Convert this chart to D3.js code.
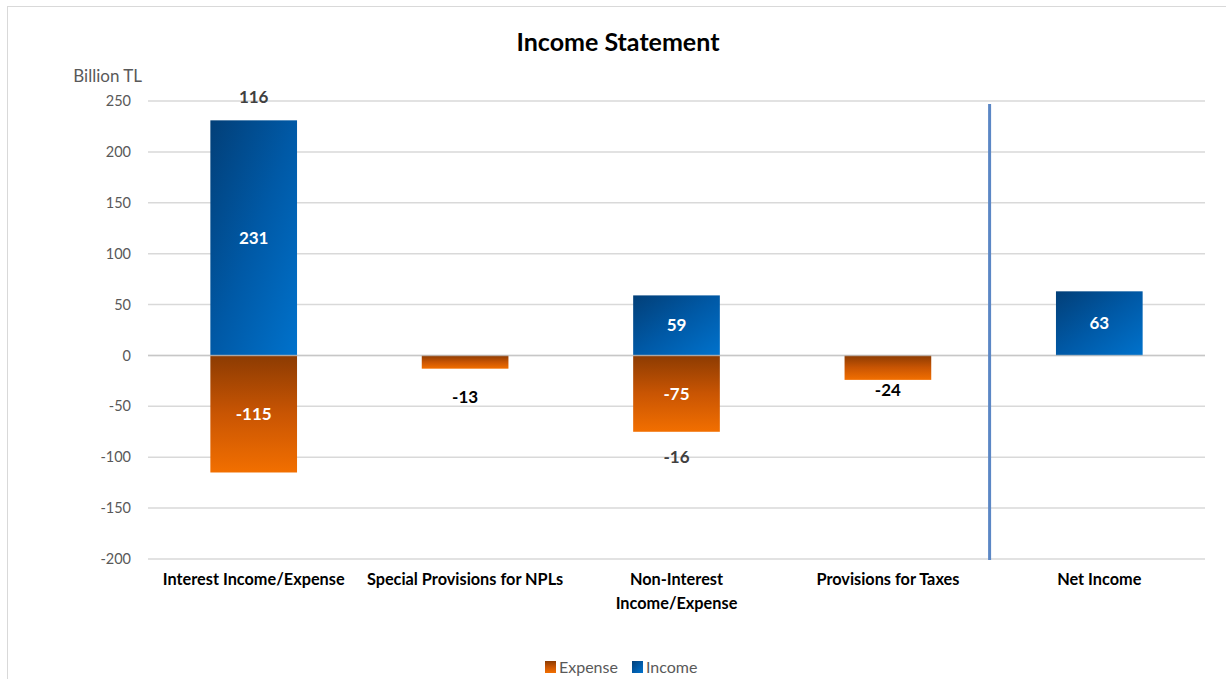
<!DOCTYPE html>
<html>
<head>
<meta charset="utf-8">
<script src="https://cdn.jsdelivr.net/npm/d3@7"></script>
<style>
  body { margin: 0; background: #fff; }
  svg { font-family: Lato, "Open Sans", sans-serif; }
</style>
</head>
<body>
<script>
// chart values
const categories = ["Interest Income/Expense", "Special Provisions for NPLs", "Non-Interest\nIncome/Expense", "Provisions for Taxes", "Net Income"];
const income = [231, 0, 59, 0, 63];
const expense = [-115, -13, -75, -24, 0];
const netLabels = [116, null, -16, null, null];
const yTicks = [250, 200, 150, 100, 50, 0, -50, -100, -150, -200];
const seriesNames = ["Expense", "Income"];

window.onload = function () {
    const width = 1226, height = 679;
    const left = 148, right = 1205, top = 101, bottom = 559;

    const svg = d3.select("body").append("svg")
        .attr("width", width)
        .attr("height", height);

    // gradients
    const defs = svg.append("defs");
    const gBlue = defs.append("linearGradient").attr("id", "blue")
        .attr("x1", "0").attr("y1", "0").attr("x2", "1").attr("y2", "1");
    gBlue.append("stop").attr("offset", "0").attr("stop-color", "#023f78");
    gBlue.append("stop").attr("offset", "0.5").attr("stop-color", "#0059a6");
    gBlue.append("stop").attr("offset", "1").attr("stop-color", "#0072cc");
    const gOrange = defs.append("linearGradient").attr("id", "orange")
        .attr("x1", "0").attr("y1", "0").attr("x2", "0").attr("y2", "1");
    gOrange.append("stop").attr("offset", "0").attr("stop-color", "#8c3b02");
    gOrange.append("stop").attr("offset", "0.5").attr("stop-color", "#c95503");
    gOrange.append("stop").attr("offset", "1").attr("stop-color", "#f26f00");

    // outer frame
    svg.append("rect")
        .attr("x", 7.5).attr("y", 6.5)
        .attr("width", 1240).attr("height", 700)
        .attr("fill", "none")
        .attr("stroke", "#d9d9d9");

    const x = d3.scaleBand()
        .domain(categories)
        .range([left, right])
        .paddingInner(0.59)
        .paddingOuter(0.295);

    const y = d3.scaleLinear()
        .domain([-200, 250])
        .range([bottom, top]);

    // grid
    svg.append("g")
        .selectAll("line")
        .data(yTicks)
        .enter().append("line")
        .attr("x1", left).attr("x2", right)
        .attr("y1", d => y(d)).attr("y2", d => y(d))
        .attr("stroke", "#d9d9d9")
        .attr("stroke-width", 1.5);

    // y axis labels
    svg.append("g")
        .selectAll("text")
        .data(yTicks)
        .enter().append("text")
        .attr("x", 131)
        .attr("y", d => y(d))
        .attr("dy", "0.35em")
        .attr("text-anchor", "end")
        .attr("fill", "#595959")
        .attr("font-size", "14.5px")
        .text(d => d);

    svg.append("text")
        .attr("x", 142).attr("y", 76)
        .attr("dy", "0.35em")
        .attr("text-anchor", "end")
        .attr("fill", "#595959")
        .attr("font-size", "17px")
        .text("Billion TL");

    // title
    svg.append("text")
        .attr("x", 618).attr("y", 42)
        .attr("dy", "0.35em")
        .attr("text-anchor", "middle")
        .attr("font-size", "25px")
        .attr("font-weight", "bold")
        .attr("fill", "#000")
        .text("Income Statement");

    // bars
    const barG = svg.append("g");
    barG.selectAll(".inc")
        .data(categories.map((c, i) => ({c, v: income[i]})).filter(d => d.v !== 0))
        .enter().append("rect")
        .attr("x", d => x(d.c))
        .attr("width", x.bandwidth())
        .attr("y", d => y(d.v))
        .attr("height", d => y(0) - y(d.v))
        .attr("fill", "url(#blue)");

    barG.selectAll(".exp")
        .data(categories.map((c, i) => ({c, v: expense[i]})).filter(d => d.v !== 0))
        .enter().append("rect")
        .attr("x", d => x(d.c))
        .attr("width", x.bandwidth())
        .attr("y", y(0))
        .attr("height", d => y(d.v) - y(0))
        .attr("fill", "url(#orange)");

    // zero line shows faintly over the bars
    svg.append("line")
        .attr("x1", left).attr("x2", right)
        .attr("y1", y(0)).attr("y2", y(0))
        .attr("stroke", "#bfbfbf")
        .attr("stroke-opacity", 0.7)
        .attr("stroke-width", 1.5);

    // separator before net income
    const sepX = (x(categories[3]) + x.bandwidth() + x(categories[4])) / 2 - 4;
    svg.append("line")
        .attr("x1", sepX).attr("x2", sepX)
        .attr("y1", 104).attr("y2", bottom + 1)
        .attr("stroke", "#5b87c5")
        .attr("stroke-width", 3);

    // labels inside big bars
    const cx = c => x(c) + x.bandwidth() / 2;
    const inside = [];
    categories.forEach((c, i) => {
        if (income[i] > 20) inside.push({c, v: income[i], ym: (y(income[i]) + y(0)) / 2});
        if (expense[i] < -50) inside.push({c, v: expense[i], ym: (y(expense[i]) + y(0)) / 2});
    });
    svg.append("g")
        .selectAll("text")
        .data(inside)
        .enter().append("text")
        .attr("x", d => cx(d.c))
        .attr("y", d => d.ym)
        .attr("dy", "0.35em")
        .attr("text-anchor", "middle")
        .attr("fill", "#fff")
        .attr("font-size", "17px")
        .attr("font-weight", "bold")
        .text(d => d.v);

    // labels below small expense bars
    const belowDy = {1: 28, 3: 10};
    const outside = [];
    categories.forEach((c, i) => {
        if (expense[i] < 0 && expense[i] >= -50) outside.push({c, v: expense[i], yy: y(expense[i]) + belowDy[i]});
    });
    svg.append("g")
        .selectAll("text")
        .data(outside)
        .enter().append("text")
        .attr("x", d => cx(d.c))
        .attr("y", d => d.yy)
        .attr("dy", "0.35em")
        .attr("text-anchor", "middle")
        .attr("fill", "#000")
        .attr("font-size", "17px")
        .attr("font-weight", "bold")
        .text(d => d.v);

    // net labels
    const nets = categories.map((c, i) => ({c, v: netLabels[i], i})).filter(d => d.v !== null);
    svg.append("g")
        .selectAll("text")
        .data(nets)
        .enter().append("text")
        .attr("x", d => cx(d.c))
        .attr("y", d => d.v > 0 ? y(income[d.i]) - 23 : y(expense[d.i]) + 25)
        .attr("dy", "0.35em")
        .attr("text-anchor", "middle")
        .attr("fill", "#404040")
        .attr("font-size", "17px")
        .attr("font-weight", "bold")
        .text(d => d.v);

    // category labels
    const xl = svg.append("g")
        .selectAll("text")
        .data(categories)
        .enter().append("text")
        .attr("x", d => cx(d))
        .attr("y", 579)
        .attr("text-anchor", "middle")
        .attr("fill", "#000")
        .attr("font-size", "16.3px")
        .attr("font-weight", "bold");
    xl.each(function (d) {
        const parts = d.split("\n");
        d3.select(this).selectAll("tspan")
            .data(parts)
            .enter().append("tspan")
            .attr("x", cx(d))
            .attr("dy", (p, k) => k === 0 ? "0.35em" : "24px")
            .text(p => p);
    });

    // legend
    const legend = svg.append("g");
    const legendItems = [{name: seriesNames[0], fill: "url(#orange)", x: 545}, {name: seriesNames[1], fill: "url(#blue)", x: 632}];
    legend.selectAll("rect")
        .data(legendItems)
        .enter().append("rect")
        .attr("x", d => d.x).attr("y", 661)
        .attr("width", 11).attr("height", 12)
        .attr("fill", d => d.fill);
    legend.selectAll("text")
        .data(legendItems)
        .enter().append("text")
        .attr("x", d => d.x + 14).attr("y", 667)
        .attr("dy", "0.35em")
        .attr("fill", "#595959")
        .attr("font-size", "16px")
        .text(d => d.name);
};
</script>
</body>
</html>
